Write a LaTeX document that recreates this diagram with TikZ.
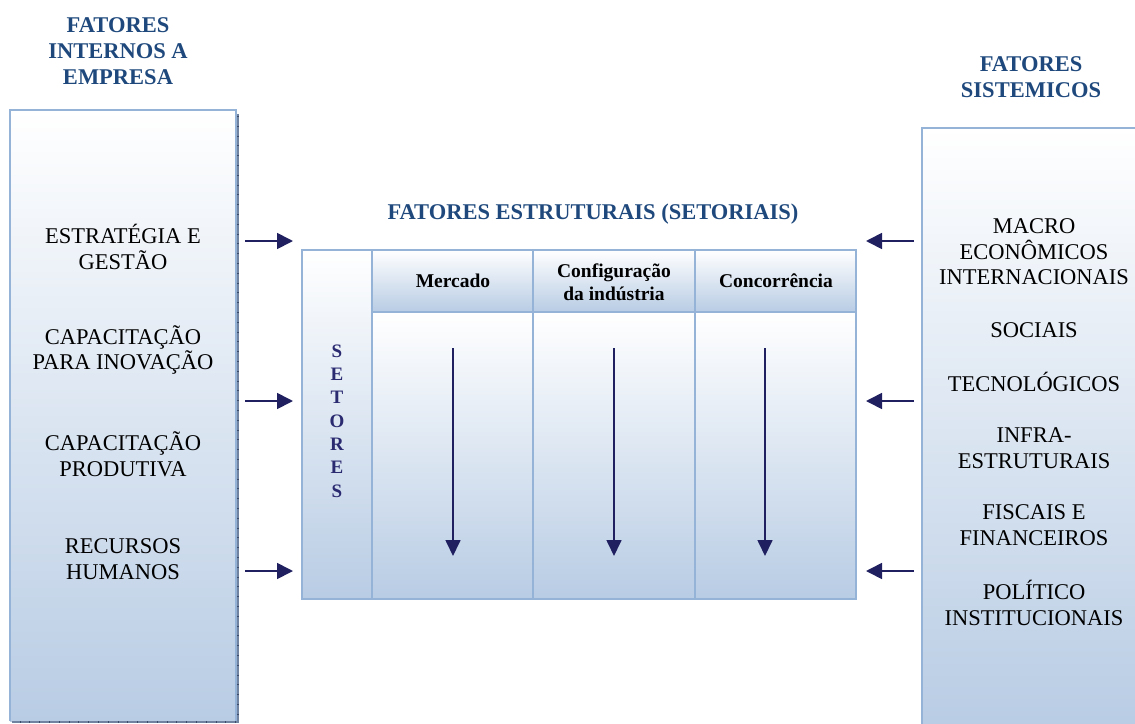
\documentclass[tikz,border=0pt]{standalone}
\usepackage{fontspec}
\setmainfont{Liberation Serif}
\usetikzlibrary{arrows.meta}

\definecolor{rim}{RGB}{149,179,215}
\definecolor{deep}{RGB}{184,204,228}
\definecolor{titleblue}{RGB}{31,73,125}
\definecolor{navy}{RGB}{32,32,96}
\definecolor{setorcol}{RGB}{42,42,112}
\definecolor{edgegrey}{RGB}{112,132,162}
\definecolor{tickgrey}{RGB}{60,76,104}

\tikzset{
  title/.style={font=\bfseries\fontsize{22.5}{26}\selectfont, text=titleblue, align=center, inner sep=0pt},
  item/.style={font=\fontsize{22.5}{25.5}\selectfont, align=center, inner sep=0pt},
  head/.style={font=\bfseries\fontsize{19.5}{23}\selectfont, align=center, inner sep=0pt},
  letter/.style={font=\bfseries\fontsize{19}{20}\selectfont, text=setorcol, inner sep=0pt},
  rimline/.style={draw=rim, line width=2pt},
  arr/.style={draw=navy, line width=1.7pt, -{Triangle[length=16pt,width=16pt]}},
  varr/.style={draw=navy, line width=1.7pt, -{Triangle[length=16pt,width=15pt]}},
}

\begin{document}
\begin{tikzpicture}[x=1pt, y=-1pt]
\useasboundingbox (0,0) rectangle (1135,723);

% ---- left panel: internal factors
\shade[top color=white, bottom color=deep] (10,110) rectangle (236,721);
\draw[rimline] (10,721) -- (10,110) -- (236,110) -- (236,721);
\draw[edgegrey, line width=2pt] (237.5,114) -- (237.5,722) -- (12,722);
\draw[tickgrey, line width=2pt, dash pattern=on 0.8pt off 9pt] (237.5,116) -- (237.5,722) -- (12,722);

\node[title] (tl) at (118,51) {FATORES\\INTERNOS A\\EMPRESA};
\node[item] (l1) at (123,247) {ESTRATÉGIA E\\GESTÃO};
\node[item] (l2) at (123,350) {CAPACITAÇÃO\\PARA INOVAÇÃO};
\node[item] (l3) at (123,454) {CAPACITAÇÃO\\PRODUTIVA};
\node[item] (l4) at (123,559) {RECURSOS\\HUMANOS};

% ---- right panel: systemic factors
\shade[top color=white, bottom color=deep] (922,128) rectangle (1140,728);
\draw[rimline] (922,728) -- (922,128) -- (1140,128);

\node[title] (tr) at (1031,77) {FATORES\\SISTEMICOS};
\node[item] (r1) at (1034,252) {MACRO\\ECONÔMICOS\\INTERNACIONAIS};
\node[item] (r2) at (1034,330) {SOCIAIS};
\node[item] (r3) at (1034,382) {TECNOLÓGICOS};
\node[item] (r4) at (1034,448) {INFRA-\\ESTRUTURAIS};
\node[item] (r5) at (1034,525) {FISCAIS E\\FINANCEIROS};
\node[item] (r6) at (1034,603) {POLÍTICO\\INSTITUCIONAIS};

% ---- central table: structural (sector) factors
\node[title] (tc) at (593,214) {FATORES ESTRUTURAIS (SETORIAIS)};

\shade[top color=white, bottom color=deep] (302,250) rectangle (372,599);
\shade[top color=white, bottom color=deep] (372,250) rectangle (856,312);
\shade[top color=white, bottom color=deep] (372,312) rectangle (856,599);
\draw[rimline] (302,250) rectangle (856,599);
\draw[rimline] (372,250) -- (372,599);
\draw[rimline] (533,250) -- (533,599);
\draw[rimline] (695,250) -- (695,599);
\draw[rimline] (372,312) -- (856,312);

\node[head] (h1) at (453,281) {Mercado};
\node[head] (h2) at (614,282) {Configuração\\da indústria};
\node[head] (h3) at (776,281) {Concorrência};

\foreach \ch [count=\k from 0] in {S,E,T,O,R,E,S}
  \node[letter] (s\k) at (337,{351+23.3*\k}) {\ch};

% ---- arrows
\coordinate (la1) at (245,241);  \coordinate (lb1) at (293,241);
\coordinate (la2) at (245,401);  \coordinate (lb2) at (293,401);
\coordinate (la3) at (245,571);  \coordinate (lb3) at (293,571);
\coordinate (ra1) at (914,241);  \coordinate (rb1) at (866,241);
\coordinate (ra2) at (914,401);  \coordinate (rb2) at (866,401);
\coordinate (ra3) at (914,571);  \coordinate (rb3) at (866,571);
\coordinate (va1) at (453,348);  \coordinate (vb1) at (453,556);
\coordinate (va2) at (614,348);  \coordinate (vb2) at (614,556);
\coordinate (va3) at (765,348);  \coordinate (vb3) at (765,556);

\draw[arr] (la1) -- (lb1);
\draw[arr] (la2) -- (lb2);
\draw[arr] (la3) -- (lb3);
\draw[arr] (ra1) -- (rb1);
\draw[arr] (ra2) -- (rb2);
\draw[arr] (ra3) -- (rb3);
\draw[varr] (va1) -- (vb1);
\draw[varr] (va2) -- (vb2);
\draw[varr] (va3) -- (vb3);
\end{tikzpicture}
\end{document}
